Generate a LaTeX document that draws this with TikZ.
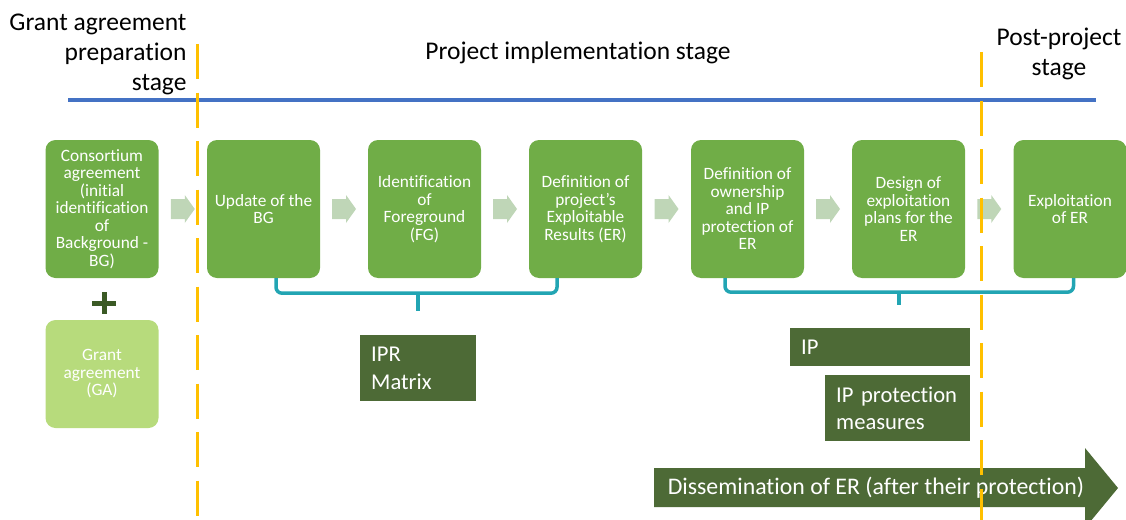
\documentclass[tikz,border=0pt]{standalone}
\usepackage{fontspec}
\setmainfont{Carlito}[Ligatures=NoCommon]
\usetikzlibrary{calc}
\definecolor{boxgreen}{HTML}{70AD47}
\definecolor{gagreen}{HTML}{B7DB7C}
\definecolor{darkgreen}{HTML}{4D6A36}
\definecolor{plusgreen}{HTML}{3B5A25}
\definecolor{lightarrow}{HTML}{BFD6B7}
\definecolor{teal}{HTML}{22A5B3}
\definecolor{blueline}{HTML}{4472C4}
\definecolor{stageline}{HTML}{FFC000}
\tikzset{
  gbox/.style={fill=boxgreen, rounded corners=10pt, minimum width=113pt, minimum height=138pt,
    text=white, align=center, inner sep=2pt, font=\fontsize{17.3}{17.5}\selectfont},
  gabox/.style={gbox, fill=gagreen, minimum height=108pt},
  dbox/.style={fill=darkgreen, text=white, align=left, inner xsep=11pt, inner ysep=0pt,
    anchor=north west, font=\fontsize{22.6}{27.5}\selectfont},
  stagetext/.style={font=\fontsize{25.5}{30}\selectfont, text=black},
  brk/.style={draw=teal, line width=3.5pt, rounded corners=6pt},
  stage/.style={draw=stageline, line width=3pt, dash pattern=on 35pt off 13.5pt},
  larr/.pic={\fill[lightarrow] (-12,-10) -- (2,-10) -- (2,-14) -- (12,0) -- (2,14) -- (2,10) -- (-12,10) -- cycle;}
}
\begin{document}
\begin{tikzpicture}[x=1pt,y=-1pt]
\useasboundingbox (0,0) rectangle (1126,519);
% stage titles
\node[stagetext, align=right, anchor=east] (tgrant) at (190,54) {Grant agreement\\preparation\\stage};
\node[stagetext] (tproj) at (578,53) {Project implementation stage};
\node[stagetext, align=center] (tpost) at (1059,54) {Post-project\\stage};
% horizontal blue line
\coordinate (bl) at (68,100);
\coordinate (br) at (1096,100);
\draw[blueline, line width=3.2pt] (bl) -- (br);
% boxes
\node[gbox] (b1) at (102,209) {Consortium\\agreement\\(initial\\identification\\of\\Background -\\BG)};
\node[gabox] (ga) at (102,374) {Grant\\agreement\\(GA)};
\node[gbox] (b2) at (263.5,209) {Update of the\\BG};
\node[gbox] (b3) at (424.5,209) {Identification\\of\\Foreground\\(FG)};
\node[gbox] (b4) at (585.5,209) {Definition of\\project's\\Exploitable\\Results (ER)};
\node[gbox] (b5) at (747.5,209) {Definition of\\ownership\\and IP\\protection of\\ER};
\node[gbox] (b6) at (908.5,209) {Design of\\exploitation\\plans for the\\ER};
\node[gbox] (b7) at (1070,209) {Exploitation\\of ER};
% plus
\draw[plusgreen, line width=5pt] (92,303) -- (116,303) (104,292) -- (104,314);
% light arrows
\pic at ($(b1.east)!0.5!(b2.west)$) {larr};
\pic at ($(b2.east)!0.5!(b3.west)$) {larr};
\pic at ($(b3.east)!0.5!(b4.west)$) {larr};
\pic at ($(b4.east)!0.5!(b5.west)$) {larr};
\pic at ($(b5.east)!0.5!(b6.west)$) {larr};
\pic at ($(b6.east)!0.5!(b7.west)$) {larr};
% dark boxes
\node[dbox, text width=94pt, minimum height=66pt] (ipr) at (360,335) {IPR\\Matrix};
\node[dbox, text width=158pt, minimum height=38pt] (ip) at (790,328) {IP};
\node[dbox, text width=123pt, minimum height=66pt] (ipp) at (825,375) {IP protection\\measures};
% brackets
\draw[brk] ([xshift=12.5pt]b2.south) -- ++(0,15) -| ([xshift=-28.5pt]b4.south);
\coordinate (t1) at (418,293);
\draw[brk] (t1) -- (418,311);
\draw[brk] ([xshift=-22.5pt]b5.south) -- ++(0,14) -| ([xshift=3.5pt]b7.south);
\coordinate (t2) at (899,292);
\draw[brk] (t2) -- (899,305);
% dissemination arrow
\fill[darkgreen] (654,468) -- (1085,468) -- (1085,448) -- (1118,488) -- (1085,528) -- (1085,507) -- (654,507) -- cycle;
\node[text=white, font=\fontsize{23.8}{26}\selectfont] (dis) at (876,488) {Dissemination of ER (after their protection)};
% stage separators
\coordinate (s1t) at (197,44);
\coordinate (s1b) at (197,525);
\coordinate (s2t) at (981,52);
\coordinate (s2b) at (981,525);
\draw[stage] (s1t) -- (s1b);
\draw[stage] (s2t) -- (s2b);
\end{tikzpicture}
\end{document}
